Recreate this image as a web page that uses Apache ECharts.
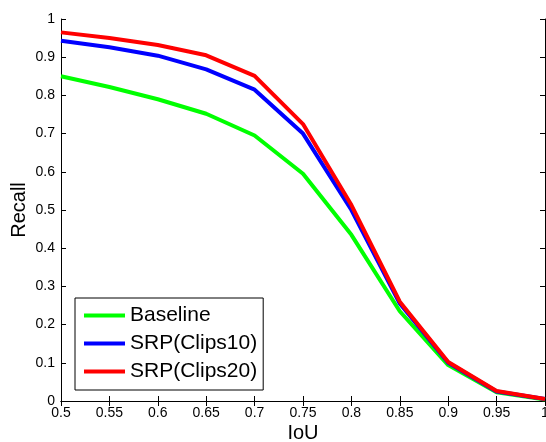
<!DOCTYPE html>
<html>
<head>
<meta charset="utf-8">
<script src="https://cdn.jsdelivr.net/npm/echarts@6/dist/echarts.min.js"></script>
<style>html,body{margin:0;padding:0;background:#fff;}#c{width:546px;height:442px;}</style>
</head>
<body>
<div id="c"></div>
<script>
var iou = [0.5, 0.55, 0.6, 0.65, 0.7, 0.75, 0.8, 0.85, 0.9, 0.95, 1.0];
var baseline = [0.850, 0.822, 0.790, 0.752, 0.695, 0.595, 0.435, 0.235, 0.094, 0.023, 0.004];
var clips10  = [0.943, 0.926, 0.904, 0.868, 0.815, 0.700, 0.500, 0.255, 0.100, 0.025, 0.005];
var clips20  = [0.965, 0.950, 0.932, 0.905, 0.851, 0.725, 0.513, 0.260, 0.102, 0.026, 0.005];
var seriesNames = ['Baseline', 'SRP(Clips10)', 'SRP(Clips20)'];

function pairs(ys) { return iou.map(function (x, i) { return [x, ys[i]]; }); }
var FONT = 'Liberation Sans, Arial, sans-serif';
function fmt(v) { return String(+v.toFixed(2)); }

var chart = echarts.init(document.getElementById('c'), null, {renderer: 'canvas'});
var axisLine = {show: true, lineStyle: {color: '#000', width: 1}};
var tick = {show: true, inside: true, length: 5, lineStyle: {color: '#000', width: 1}};
chart.setOption({
  animation: false,
  backgroundColor: '#fff',
  grid: {left: 61, top: 19, width: 484, height: 382, containLabel: false, outerBoundsMode: 'none'},
  xAxis: [
    {type: 'value', min: 0.5, max: 1, interval: 0.05, position: 'bottom',
     name: 'IoU', nameLocation: 'middle', nameGap: 22, nameMoveOverlap: false,
     nameTextStyle: {fontFamily: FONT, fontSize: 20, color: '#000'},
     axisLine: axisLine, axisTick: tick, splitLine: {show: false},
     axisLabel: {fontFamily: FONT, fontSize: 14, color: '#000', margin: 5, formatter: fmt, showMinLabel: true, showMaxLabel: true}},
    {type: 'value', min: 0.5, max: 1, interval: 0.05, position: 'top',
     axisLine: axisLine, axisTick: tick, splitLine: {show: false}, axisLabel: {show: false}}
  ],
  yAxis: [
    {type: 'value', min: 0, max: 1, interval: 0.1, position: 'left',
     name: 'Recall', nameLocation: 'middle', nameGap: 32, nameMoveOverlap: false,
     nameTextStyle: {fontFamily: FONT, fontSize: 20, color: '#000'},
     axisLine: axisLine, axisTick: tick, splitLine: {show: false},
     axisLabel: {fontFamily: FONT, fontSize: 14, color: '#000', margin: 6, formatter: fmt}},
    {type: 'value', min: 0, max: 1, interval: 0.1, position: 'right',
     axisLine: axisLine, axisTick: tick, splitLine: {show: false}, axisLabel: {show: false}}
  ],
  legend: {
    orient: 'vertical', left: 75, top: 298,
    padding: [7, 6, 8, 9], itemGap: 7,
    itemWidth: 41, itemHeight: 4, icon: 'rect',
    borderColor: '#000', borderWidth: 1, backgroundColor: '#fff',
    textStyle: {fontFamily: FONT, fontSize: 21, color: '#000'},
    data: seriesNames
  },
  series: [
    {name: seriesNames[0], type: 'line', data: pairs(baseline), symbol: 'none', color: '#00ff00', lineStyle: {width: 4, color: '#00ff00'}, z: 2},
    {name: seriesNames[1], type: 'line', data: pairs(clips10), symbol: 'none', color: '#0000ff', lineStyle: {width: 4, color: '#0000ff'}, z: 3},
    {name: seriesNames[2], type: 'line', data: pairs(clips20), symbol: 'none', color: '#ff0000', lineStyle: {width: 4, color: '#ff0000'}, z: 4}
  ]
});
</script>
</body>
</html>
